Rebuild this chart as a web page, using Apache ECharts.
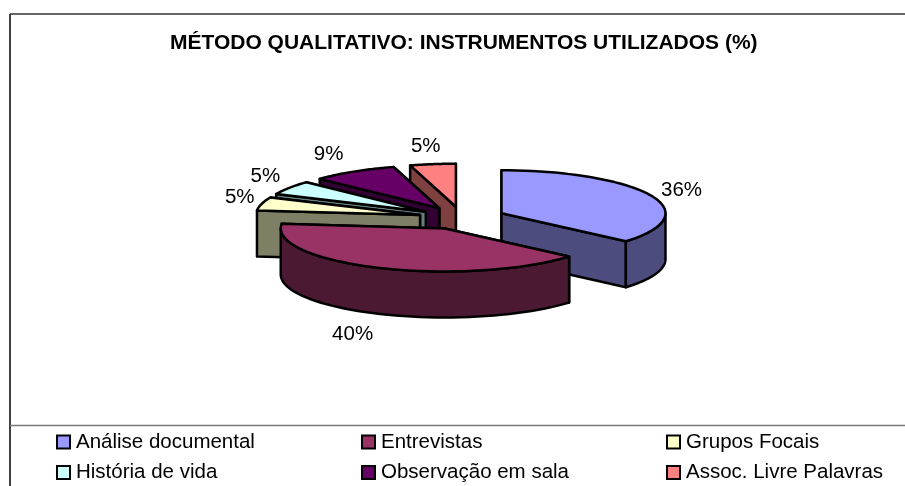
<!DOCTYPE html>
<html><head><meta charset="utf-8">
<style>html,body{margin:0;padding:0;background:#fff}#c{width:905px;height:486px}</style>
<script src="https://cdn.jsdelivr.net/npm/echarts@6/dist/echarts.min.js"></script>
</head><body><div id="c"></div>
<script>
const titleText = 'MÉTODO QUALITATIVO: INSTRUMENTOS UTILIZADOS (%)';
const categories = ['Análise documental','Entrevistas','Grupos Focais','História de vida','Observação em sala','Assoc. Livre Palavras'];
const values = [36.3,40.4,5,5.3,8.5,4.5];

// styling and layout, kept apart from the data
const topColors  = ['#9999FF','#993366','#FFFFCC','#CCFFFF','#660066','#FF8080'];
const sideColors = ['#4C4C7F','#4C1933','#7F7F66','#667F7F','#330033','#7F4040'];
const drawOrder  = [4,5,3,2,1,0];
const CX=462, CY=218, RX=164, RY=43, DEPTH=46, EXPLODE=0.265;
const labelShift = [[31,-5],[-27,66],[-22,-6],[-24,-12],[-25,-17],[-7,-18]];

const total = values.reduce(function(a,b){return a+b;},0);
const rad = function(d){return d*Math.PI/180;};

function slicePt(cx,cy,a,dz){ return [cx+RX*Math.sin(rad(a)), cy-RY*Math.cos(rad(a))+(dz||0)]; }

function makeRender(i){
  return function(params, api){
    let before=0; for(let k=0;k<i;k++) before+=values[k];
    const a0 = before/total*360, a1 = (before+api.value(0))/total*360, mid=(a0+a1)/2;
    const cx = CX+EXPLODE*RX*Math.sin(rad(mid)), cy = CY-EXPLODE*RY*Math.cos(rad(mid));
    const stroke = {stroke:'#000',lineWidth:2.5,lineJoin:'round'};
    const kids=[];
    const s0=slicePt(cx,cy,a0), s1=slicePt(cx,cy,a1);
    // cut walls, farther one first
    [s0,s1].sort(function(p,q){return p[1]-q[1];}).forEach(function(p){
      kids.push({type:'polygon',shape:{points:[[cx,cy],p,[p[0],p[1]+DEPTH],[cx,cy+DEPTH]]},
        style:Object.assign({fill:sideColors[i]},stroke)});
    });
    // outer rim: only the part facing the viewer
    const r0=Math.max(a0,90), r1=Math.min(a1,270);
    if(r1>r0){
      const pts=[];
      for(let n=0;n<=48;n++) pts.push(slicePt(cx,cy,r0+(r1-r0)*n/48));
      for(let n=48;n>=0;n--) pts.push(slicePt(cx,cy,r0+(r1-r0)*n/48,DEPTH));
      kids.push({type:'polygon',shape:{points:pts},style:Object.assign({fill:sideColors[i]},stroke)});
    }
    // top face
    const top=[[cx,cy]];
    for(let n=0;n<=48;n++) top.push(slicePt(cx,cy,a0+(a1-a0)*n/48));
    kids.push({type:'polygon',shape:{points:top},style:Object.assign({fill:topColors[i]},stroke)});
    // value label
    const rim=slicePt(cx,cy,mid), sh=labelShift[i];
    kids.push({type:'text',z2:100,style:{x:rim[0]+sh[0],y:rim[1]+sh[1],text:Math.round(api.value(0))+'%',
      fill:'#000',font:'20.5px "Liberation Sans"',textAlign:'center',textVerticalAlign:'middle'}});
    return {type:'group',children:kids};
  };
}

const series = categories.map(function(name,i){
  return {type:'custom',name:name,coordinateSystem:'none',z:drawOrder[i]+2,silent:true,
    itemStyle:{color:topColors[i]},data:[[values[i]]],renderItem:makeRender(i),animation:false};
});

const legendCols=[[0,3],[1,4],[2,5]], legendLeft=[56,361,666];
const legends = legendCols.map(function(col,k){
  return {orient:'vertical',left:legendLeft[k],top:430,itemGap:6.5,itemWidth:13,itemHeight:13,padding:0,
    selectedMode:false,icon:'rect',data:col.map(function(i){return categories[i];}),
    itemStyle:{borderColor:'#000',borderWidth:2},
    textStyle:{color:'#000',fontFamily:'Liberation Sans',fontSize:20.5,padding:[0,0,0,1],lineHeight:24}};
});

const chart = echarts.init(document.getElementById('c'),null,{renderer:'canvas'});
chart.setOption({
  animation:false,backgroundColor:'#fff',
  title:{text:titleText,left:170,top:33,padding:0,itemGap:0,
    textStyle:{fontFamily:'Liberation Sans',fontWeight:'bold',fontSize:21,color:'#000'}},
  legend:legends,
  series:series,
  graphic:[
    {type:'line',shape:{x1:10,y1:14,x2:10,y2:486},style:{stroke:'#000',lineWidth:1.5},z:1},
    {type:'line',shape:{x1:10,y1:14,x2:905,y2:14},style:{stroke:'#333',lineWidth:1.5},z:1},
    {type:'line',shape:{x1:10,y1:425.5,x2:905,y2:425.5},style:{stroke:'#777',lineWidth:1.5},z:1}
  ]
});
</script></body></html>
